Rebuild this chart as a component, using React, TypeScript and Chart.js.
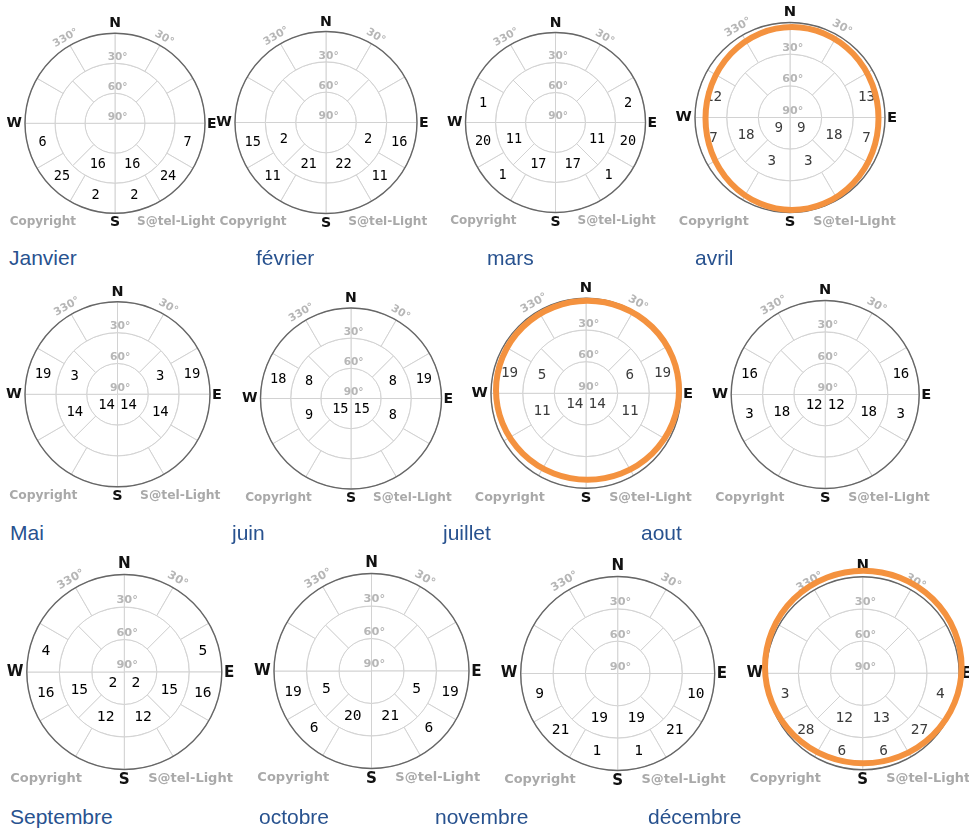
import React, { useEffect, useRef } from "react";
import { Chart, registerables } from "chart.js";

Chart.register(...registerables);

// ---------- data ----------
const MONTHS = ["Janvier", "février", "mars", "avril", "Mai", "juin", "juillet", "aout", "Septembre", "octobre", "novembre", "décembre"];
const HIGHLIGHTED = ["avril", "juillet", "décembre"];

// angular width (degrees) of each sector, clockwise from North
const OUTER_SECTORS = [30, 30, 30, 30, 30, 30, 30, 30, 30, 30, 30, 30]; // elevation 0°–30°
const MIDDLE_SECTORS = [45, 45, 45, 45, 45, 45, 45, 45]; // elevation 30°–60°
const INNER_SECTORS = [90, 90, 90, 90]; // elevation 60°–90°

const _ = null;
type Cell = number | null;

const OUTER_VALUES: Cell[][] = [
  [_, _, _, 7, 24, 2, 2, 25, 6, _, _, _],
  [_, _, _, 16, 11, _, _, 11, 15, _, _, _],
  [_, _, 2, 20, 1, _, _, 1, 20, 1, _, _],
  [_, _, 13, 7, _, _, _, _, 7, 12, _, _],
  [_, _, 19, _, _, _, _, _, _, 19, _, _],
  [_, _, 19, _, _, _, _, _, _, 18, _, _],
  [_, _, 19, _, _, _, _, _, _, 19, _, _],
  [_, _, 16, 3, _, _, _, _, 3, 16, _, _],
  [_, _, 5, 16, _, _, _, _, 16, 4, _, _],
  [_, _, _, 19, 6, _, _, 6, 19, _, _, _],
  [_, _, _, 10, 21, 1, 1, 21, 9, _, _, _],
  [_, _, _, 4, 27, 6, 6, 28, 3, _, _, _],
];
const MIDDLE_VALUES: Cell[][] = [
  [_, _, _, 16, 16, _, _, _],
  [_, _, 2, 22, 21, 2, _, _],
  [_, _, 11, 17, 17, 11, _, _],
  [_, _, 18, 3, 3, 18, _, _],
  [_, 3, 14, _, _, 14, 3, _],
  [_, 8, 8, _, _, 9, 8, _],
  [_, 6, 11, _, _, 11, 5, _],
  [_, _, 18, _, _, 18, _, _],
  [_, _, 15, 12, 12, 15, _, _],
  [_, _, 5, 21, 20, 5, _, _],
  [_, _, _, 19, 19, _, _, _],
  [_, _, _, 13, 12, _, _, _],
];
const INNER_VALUES: Cell[][] = [
  [_, _, _, _],
  [_, _, _, _],
  [_, _, _, _],
  [_, 9, 9, _],
  [_, 14, 14, _],
  [_, 15, 15, _],
  [_, 14, 14, _],
  [_, 12, 12, _],
  [_, 2, 2, _],
  [_, _, _, _],
  [_, _, _, _],
  [_, _, _, _],
];

const COMPASS = ["N", "E", "S", "W"];
const AZIMUTH_TICKS = ["330°", "30°"];
const ELEVATION_TICKS = ["30°", "60°", "90°"];
const CREDITS = ["Copyright", "S@tel-Light"];

// ---------- layout / style ----------
const LAYOUT = [
  { cx: 115, cy: 123.3, r: 90, lx: 9, ly: 258 },
  { cx: 326, cy: 122.5, r: 91, lx: 256, ly: 258 },
  { cx: 555.5, cy: 122.5, r: 90, lx: 487, ly: 258 },
  { cx: 790, cy: 117.5, r: 95, lx: 695, ly: 258 },
  { cx: 117.5, cy: 394.3, r: 92.5, lx: 10, ly: 533 },
  { cx: 351, cy: 398.5, r: 90.5, lx: 232, ly: 533 },
  { cx: 586, cy: 393.3, r: 95, lx: 443, ly: 533 },
  { cx: 825.2, cy: 394.5, r: 94, lx: 641, ly: 533 },
  { cx: 124.3, cy: 672, r: 97.5, lx: 10, ly: 817 },
  { cx: 371.5, cy: 671, r: 97.5, lx: 259, ly: 817 },
  { cx: 617.7, cy: 673.5, r: 97, lx: 435, ly: 817 },
  { cx: 862.7, cy: 673.3, r: 96.5, lx: 648, ly: 817 },
];
const HALO: Record<string, { dx: number; dy: number; rx: number; ry: number }> = {
  avril: { dx: 2, dy: 1, rx: 86.5, ry: 91.5 },
  juillet: { dx: 1.5, dy: -3, rx: 91.5, ry: 89.5 },
  "décembre": { dx: 0.6, dy: -6.3, rx: 98.3, ry: 96.3 },
};
const GRID = "#d2d2d2";
const RIM = "#666666";
const LIGHT_TEXT = "#b6b6b6";
const ORANGE = "#f4923f";
const MONTH_COLOR = "#28528f";

function geom(m: number) {
  const L = LAYOUT[m];
  const P = 26;
  const half = L.r + P;
  const left = Math.floor(L.cx - half);
  const top = Math.floor(L.cy - half);
  const ex = L.cx - half - left;
  const ey = L.cy - half - top;
  const size = Math.ceil(2 * half) + 2;
  return { L, P, left, top, ex, ey, size };
}

function makeSkyPlugin(m: number) {
  const name = MONTHS[m];
  const hl = HIGHLIGHTED.includes(name);
  const s = LAYOUT[m].r / 90;
  const ringValues = [OUTER_VALUES[m], MIDDLE_VALUES[m], INNER_VALUES[m]];
  return {
    id: "sky" + m,
    afterDatasetsDraw(chart: any) {
      const ctx: CanvasRenderingContext2D = chart.ctx;
      const a0: any = chart.getDatasetMeta(0).data[0];
      const cx = a0.x, cy = a0.y, R = a0.outerRadius;
      const rMid = (chart.getDatasetMeta(1).data[0] as any).outerRadius;
      const rIn = (chart.getDatasetMeta(2).data[0] as any).outerRadius;
      ctx.save();
      // rim
      ctx.beginPath();
      ctx.arc(cx, cy, R, 0, Math.PI * 2);
      ctx.strokeStyle = RIM;
      ctx.lineWidth = 1.4;
      ctx.stroke();

      // elevation ticks
      ctx.fillStyle = LIGHT_TEXT;
      ctx.font = `bold ${10.5 * s}px "DejaVu Sans"`;
      ctx.textBaseline = "middle";
      ctx.textAlign = "left";
      const radii = [rMid, rIn, 0];
      ELEVATION_TICKS.forEach((t, i) => {
        const w = ctx.measureText(t.replace("°", "")).width;
        ctx.fillText(t, cx - w / 2, cy - radii[i] - 6 * s);
      });

      // azimuth ticks
      ctx.font = `bold ${10.5 * s}px "DejaVu Sans"`;
      ctx.textAlign = "center";
      const angs = [-30, 30];
      AZIMUTH_TICKS.forEach((t, i) => {
        const a = (angs[i] * Math.PI) / 180;
        const rr = R + 8.5 * s;
        ctx.save();
        ctx.translate(cx + rr * Math.sin(a), cy - rr * Math.cos(a));
        ctx.rotate(a);
        ctx.fillText(t, 0, 0);
        ctx.restore();
      });

      // cell values
      ctx.fillStyle = hl ? "#3c3c3c" : "#000";
      ctx.font = `${13.5 * s}px "DejaVu Sans Mono"`;
      ctx.textAlign = "center";
      ctx.textBaseline = "middle";
      for (let d = 0; d < 3; d++) {
        const meta = chart.getDatasetMeta(d);
        meta.data.forEach((arc: any, j: number) => {
          const v = ringValues[d][j];
          if (v === null || v === undefined) return;
          const p = arc.getCenterPoint();
          ctx.fillText(String(v), p.x, p.y);
        });
      }

      // compass
      ctx.fillStyle = "#111";
      ctx.font = `bold ${14 * s}px "DejaVu Sans"`;
      ctx.textBaseline = "middle";
      ctx.textAlign = "center";
      ctx.fillText(COMPASS[0], cx, cy - R - 9.5 * s);
      ctx.fillText(COMPASS[2], cx, cy + R + 9.5 * s);
      ctx.textAlign = "left";
      ctx.fillText(COMPASS[1], cx + R + 2 * s, cy + 1);
      ctx.textAlign = "right";
      ctx.fillText(COMPASS[3], cx - R - 3 * s, cy);

      // credits
      ctx.fillStyle = "#a9a9a9";
      ctx.font = `bold ${12 * s}px "DejaVu Sans"`;
      ctx.textAlign = "right";
      ctx.fillText(CREDITS[0], cx - 39 * s, cy + R + 8.5 * s);
      ctx.textAlign = "left";
      ctx.fillText(CREDITS[1], cx + 22 * s, cy + R + 8.5 * s);

      // highlight
      const h = HALO[name];
      if (hl && h) {
        ctx.beginPath();
        ctx.ellipse(cx + h.dx, cy + h.dy, h.rx, h.ry, 0, 0, Math.PI * 2);
        ctx.strokeStyle = ORANGE;
        ctx.lineWidth = 6;
        ctx.stroke();
      }
      ctx.restore();
    },
  };
}

export default function App() {
  const refs = useRef<(HTMLCanvasElement | null)[]>([]);

  useEffect(() => {
    const charts: Chart[] = [];
    MONTHS.forEach((_n, m) => {
      const canvas = refs.current[m];
      if (!canvas) return;
      const g = geom(m);
      const padL = g.P - 0.5 + g.ex;
      const padT = g.P - 0.5 + g.ey;
      const area = 2 * g.L.r + 1;
      const padR = g.size - padL - area;
      const padB = g.size - padT - area;
      const ds = (data: number[]) => ({
        data: [...data],
        backgroundColor: "#ffffff",
        borderColor: GRID,
        borderWidth: 1,
      });
      charts.push(
        new Chart(canvas, {
          type: "pie",
          data: {
            datasets: [ds(OUTER_SECTORS), ds(MIDDLE_SECTORS), ds(INNER_SECTORS)],
          },
          options: {
            responsive: false,
            animation: false,
            events: [],
            layout: { padding: { left: padL, top: padT, right: padR, bottom: padB } },
            plugins: { legend: { display: false }, tooltip: { enabled: false } },
          } as any,
          plugins: [makeSkyPlugin(m) as any],
        })
      );
    });
    return () => charts.forEach((c) => c.destroy());
  }, []);

  return (
    <div style={{ position: "absolute", left: 0, top: 0, width: 969, height: 829, background: "#fff", overflow: "hidden" }}>
      {MONTHS.map((name, m) => {
        const g = geom(m);
        return (
          <React.Fragment key={name}>
            <canvas
              ref={(el) => {
                refs.current[m] = el;
              }}
              width={g.size}
              height={g.size}
              style={{ position: "absolute", left: g.left, top: g.top, width: g.size, height: g.size }}
            />
            <div
              style={{
                position: "absolute",
                left: g.L.lx,
                top: g.L.ly - 10,
                fontFamily: "Arial, 'Liberation Sans', sans-serif",
                fontSize: 21,
                lineHeight: "20px",
                color: MONTH_COLOR,
                whiteSpace: "nowrap",
              }}
            >
              {name}
            </div>
          </React.Fragment>
        );
      })}
    </div>
  );
}
